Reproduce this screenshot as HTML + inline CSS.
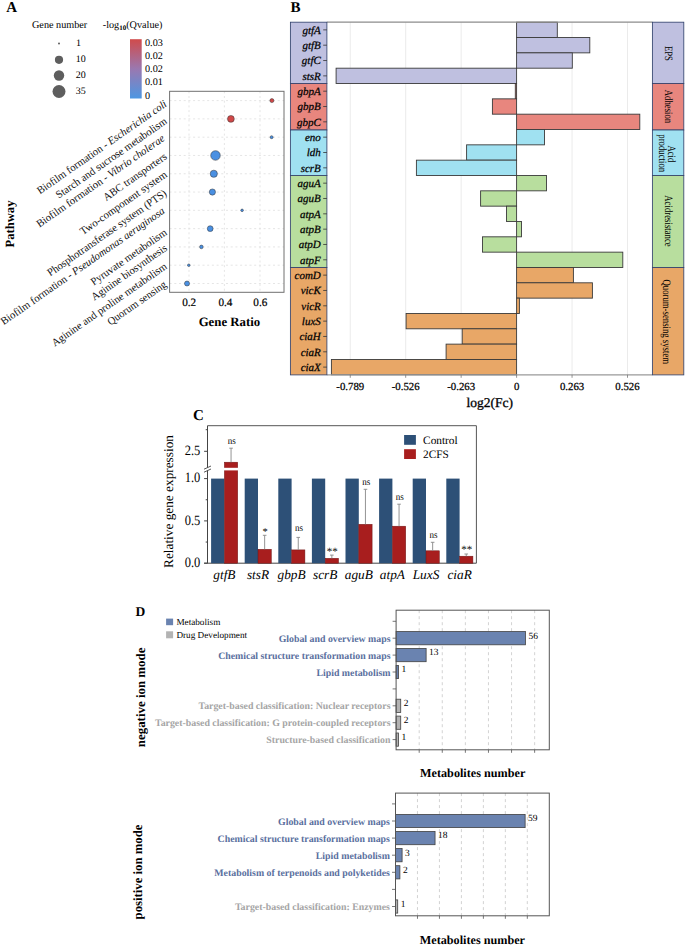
<!DOCTYPE html>
<html><head><meta charset="utf-8"><style>
html,body{margin:0;padding:0;background:#fff;}
svg{display:block;font-family:"Liberation Serif", serif;text-rendering:geometricPrecision;}
</style></head><body>
<svg width="685" height="945" viewBox="0 0 685 945">
<rect x="0" y="0" width="685" height="945" fill="#fff"/>
<text x="6.30" y="11.70" font-size="15" text-anchor="start" font-weight="bold" font-style="normal" fill="#000" >A</text>
<text x="32.00" y="28.00" font-size="10.2" text-anchor="start" font-weight="normal" font-style="normal" fill="#000" >Gene number</text>
<text x="102.8" y="28" font-size="10.2">-log<tspan font-size="7" font-weight="bold" dy="2">10</tspan><tspan dy="-2">(Qvalue)</tspan></text>
<circle cx="59" cy="43.6" r="1.0" fill="#5e5e5e"/>
<text x="76.00" y="46.20" font-size="10" text-anchor="start" font-weight="normal" font-style="normal" fill="#000" >1</text>
<circle cx="59" cy="59.8" r="4.1" fill="#5e5e5e"/>
<text x="75.80" y="62.40" font-size="10" text-anchor="start" font-weight="normal" font-style="normal" fill="#000" >10</text>
<circle cx="59" cy="75.5" r="5.2" fill="#5e5e5e"/>
<text x="75.80" y="78.10" font-size="10" text-anchor="start" font-weight="normal" font-style="normal" fill="#000" >20</text>
<circle cx="59" cy="91.5" r="6.5" fill="#5e5e5e"/>
<text x="75.80" y="94.10" font-size="10" text-anchor="start" font-weight="normal" font-style="normal" fill="#000" >35</text>
<defs><linearGradient id="cb" x1="0" y1="0" x2="0" y2="1"><stop offset="0" stop-color="#d04b4b"/><stop offset="0.5" stop-color="#9a78b0"/><stop offset="1" stop-color="#4d97e2"/></linearGradient></defs>
<rect x="130.00" y="39.20" width="11.70" height="59.30" fill="url(#cb)" stroke="none" stroke-width="1" />
<text x="145.00" y="46.10" font-size="10.2" text-anchor="start" font-weight="normal" font-style="normal" fill="#000" >0.03</text>
<text x="145.00" y="59.10" font-size="10.2" text-anchor="start" font-weight="normal" font-style="normal" fill="#000" >0.02</text>
<text x="145.00" y="72.00" font-size="10.2" text-anchor="start" font-weight="normal" font-style="normal" fill="#000" >0.02</text>
<text x="145.00" y="85.30" font-size="10.2" text-anchor="start" font-weight="normal" font-style="normal" fill="#000" >0.01</text>
<text x="145.00" y="98.50" font-size="10.2" text-anchor="start" font-weight="normal" font-style="normal" fill="#000" >0</text>
<line x1="169.60" y1="100.60" x2="284.00" y2="100.60" stroke="#dedede" stroke-width="0.8" stroke-dasharray="2,2.7"/>
<line x1="169.60" y1="118.89" x2="284.00" y2="118.89" stroke="#dedede" stroke-width="0.8" stroke-dasharray="2,2.7"/>
<line x1="169.60" y1="137.18" x2="284.00" y2="137.18" stroke="#dedede" stroke-width="0.8" stroke-dasharray="2,2.7"/>
<line x1="169.60" y1="155.47" x2="284.00" y2="155.47" stroke="#dedede" stroke-width="0.8" stroke-dasharray="2,2.7"/>
<line x1="169.60" y1="173.76" x2="284.00" y2="173.76" stroke="#dedede" stroke-width="0.8" stroke-dasharray="2,2.7"/>
<line x1="169.60" y1="192.05" x2="284.00" y2="192.05" stroke="#dedede" stroke-width="0.8" stroke-dasharray="2,2.7"/>
<line x1="169.60" y1="210.34" x2="284.00" y2="210.34" stroke="#dedede" stroke-width="0.8" stroke-dasharray="2,2.7"/>
<line x1="169.60" y1="228.63" x2="284.00" y2="228.63" stroke="#dedede" stroke-width="0.8" stroke-dasharray="2,2.7"/>
<line x1="169.60" y1="246.92" x2="284.00" y2="246.92" stroke="#dedede" stroke-width="0.8" stroke-dasharray="2,2.7"/>
<line x1="169.60" y1="265.21" x2="284.00" y2="265.21" stroke="#dedede" stroke-width="0.8" stroke-dasharray="2,2.7"/>
<line x1="169.60" y1="283.50" x2="284.00" y2="283.50" stroke="#dedede" stroke-width="0.8" stroke-dasharray="2,2.7"/>
<line x1="189.00" y1="91.30" x2="189.00" y2="292.30" stroke="#dedede" stroke-width="0.8" stroke-dasharray="2,2.7"/>
<line x1="224.40" y1="91.30" x2="224.40" y2="292.30" stroke="#dedede" stroke-width="0.8" stroke-dasharray="2,2.7"/>
<line x1="260.00" y1="91.30" x2="260.00" y2="292.30" stroke="#dedede" stroke-width="0.8" stroke-dasharray="2,2.7"/>
<rect x="169.60" y="91.30" width="114.40" height="201.00" fill="none" stroke="#707070" stroke-width="1" />
<circle cx="271.9" cy="100.60" r="2.0" fill="#d04848" stroke="#333" stroke-width="0.5"/>
<circle cx="230.9" cy="118.89" r="3.4" fill="#d04848" stroke="#333" stroke-width="0.5"/>
<circle cx="271.6" cy="137.18" r="1.5" fill="#4a90e2" stroke="#333" stroke-width="0.5"/>
<circle cx="215.5" cy="155.47" r="4.8" fill="#4a90e2" stroke="#333" stroke-width="0.5"/>
<circle cx="213.8" cy="173.76" r="3.6" fill="#4a90e2" stroke="#333" stroke-width="0.5"/>
<circle cx="212.4" cy="192.05" r="3.1" fill="#4a90e2" stroke="#333" stroke-width="0.5"/>
<circle cx="242.1" cy="210.34" r="1.3" fill="#4a90e2" stroke="#333" stroke-width="0.5"/>
<circle cx="210.2" cy="228.63" r="2.9" fill="#4a90e2" stroke="#333" stroke-width="0.5"/>
<circle cx="201.4" cy="246.92" r="1.8" fill="#4a90e2" stroke="#333" stroke-width="0.5"/>
<circle cx="188.8" cy="265.21" r="1.3" fill="#4a90e2" stroke="#333" stroke-width="0.5"/>
<circle cx="187.0" cy="283.50" r="2.5" fill="#4a90e2" stroke="#333" stroke-width="0.5"/>
<text x="167.50" y="105.60" font-size="10.85" fill="#111" text-anchor="end" textLength="155.35" lengthAdjust="spacingAndGlyphs" transform="rotate(-34.9 167.50 105.60)">Biofilm formation - <tspan font-style="italic">Escherichia coli</tspan></text>
<text x="167.80" y="122.79" font-size="10.85" fill="#111" text-anchor="end" textLength="132.95" lengthAdjust="spacingAndGlyphs" transform="rotate(-34.9 167.80 122.79)">Starch and sucrose metabolism</text>
<text x="165.50" y="139.88" font-size="10.85" fill="#111" text-anchor="end" textLength="153.7" lengthAdjust="spacingAndGlyphs" transform="rotate(-34.9 165.50 139.88)">Biofilm formation - <tspan font-style="italic">Vibrio cholerae</tspan></text>
<text x="167.80" y="158.17" font-size="10.85" fill="#111" text-anchor="end" textLength="75.17" lengthAdjust="spacingAndGlyphs" transform="rotate(-34.9 167.80 158.17)">ABC transporters</text>
<text x="167.80" y="176.16" font-size="10.85" fill="#111" text-anchor="end" textLength="103.37" lengthAdjust="spacingAndGlyphs" transform="rotate(-34.9 167.80 176.16)">Two-component system</text>
<text x="167.50" y="194.85" font-size="10.85" fill="#111" text-anchor="end" textLength="142.9" lengthAdjust="spacingAndGlyphs" transform="rotate(-34.9 167.50 194.85)">Phosphotransferase system (PTS)</text>
<text x="165.50" y="212.44" font-size="10.85" fill="#111" text-anchor="end" textLength="197.23" lengthAdjust="spacingAndGlyphs" transform="rotate(-34.9 165.50 212.44)">Biofilm formation - <tspan font-style="italic">Pseudomonas aeruginosa</tspan></text>
<text x="167.80" y="234.03" font-size="10.85" fill="#111" text-anchor="end" textLength="90.33" lengthAdjust="spacingAndGlyphs" transform="rotate(-34.9 167.80 234.03)">Pyruvate metabolism</text>
<text x="167.80" y="249.62" font-size="10.85" fill="#111" text-anchor="end" textLength="89.56" lengthAdjust="spacingAndGlyphs" transform="rotate(-34.9 167.80 249.62)">Aginine biosynthesis</text>
<text x="167.80" y="267.91" font-size="10.85" fill="#111" text-anchor="end" textLength="137.95" lengthAdjust="spacingAndGlyphs" transform="rotate(-34.9 167.80 267.91)">Aginine and proline metabolism</text>
<text x="167.40" y="285.90" font-size="10.85" fill="#111" text-anchor="end" textLength="69.46" lengthAdjust="spacingAndGlyphs" transform="rotate(-34.9 167.40 285.90)">Quorum sensing</text>
<text x="0" y="0" font-size="12.6" font-weight="bold" text-anchor="middle" transform="translate(14.4 224.0) rotate(-90)">Pathway</text>
<text x="189.20" y="305.90" font-size="11.2" text-anchor="middle" font-weight="normal" font-style="normal" fill="#000" stroke="#000" stroke-width="0.2" >0.2</text>
<text x="225.40" y="305.90" font-size="11.2" text-anchor="middle" font-weight="normal" font-style="normal" fill="#000" stroke="#000" stroke-width="0.2" >0.4</text>
<text x="260.30" y="305.90" font-size="11.2" text-anchor="middle" font-weight="normal" font-style="normal" fill="#000" stroke="#000" stroke-width="0.2" >0.6</text>
<text x="229.40" y="325.70" font-size="12.8" text-anchor="middle" font-weight="bold" font-style="normal" fill="#000" >Gene Ratio</text>
<text x="290.40" y="11.60" font-size="15" text-anchor="start" font-weight="bold" font-style="normal" fill="#000" >B</text>
<line x1="350.25" y1="22.20" x2="350.25" y2="374.79" stroke="#ebebeb" stroke-width="1" />
<line x1="405.70" y1="22.20" x2="405.70" y2="374.79" stroke="#ebebeb" stroke-width="1" />
<line x1="461.15" y1="22.20" x2="461.15" y2="374.79" stroke="#ebebeb" stroke-width="1" />
<line x1="572.05" y1="22.20" x2="572.05" y2="374.79" stroke="#ebebeb" stroke-width="1" />
<line x1="627.50" y1="22.20" x2="627.50" y2="374.79" stroke="#ebebeb" stroke-width="1" />
<rect x="516.60" y="22.20" width="40.70" height="15.33" fill="#bfc0e0" stroke="#3a3a3a" stroke-width="0.9" />
<rect x="516.60" y="37.53" width="73.20" height="15.33" fill="#bfc0e0" stroke="#3a3a3a" stroke-width="0.9" />
<rect x="516.60" y="52.86" width="55.70" height="15.33" fill="#bfc0e0" stroke="#3a3a3a" stroke-width="0.9" />
<rect x="336.10" y="68.19" width="180.50" height="15.33" fill="#bfc0e0" stroke="#3a3a3a" stroke-width="0.9" />
<rect x="515.30" y="83.52" width="1.30" height="15.33" fill="#e8867e" stroke="#3a3a3a" stroke-width="0.9" />
<rect x="492.40" y="98.85" width="24.20" height="15.33" fill="#e8867e" stroke="#3a3a3a" stroke-width="0.9" />
<rect x="516.60" y="114.18" width="123.20" height="15.33" fill="#e8867e" stroke="#3a3a3a" stroke-width="0.9" />
<rect x="516.60" y="129.51" width="27.90" height="15.33" fill="#a0e1f1" stroke="#3a3a3a" stroke-width="0.9" />
<rect x="466.60" y="144.84" width="50.00" height="15.33" fill="#a0e1f1" stroke="#3a3a3a" stroke-width="0.9" />
<rect x="416.40" y="160.17" width="100.20" height="15.33" fill="#a0e1f1" stroke="#3a3a3a" stroke-width="0.9" />
<rect x="516.60" y="175.50" width="29.90" height="15.33" fill="#b8de9e" stroke="#3a3a3a" stroke-width="0.9" />
<rect x="480.60" y="190.83" width="36.00" height="15.33" fill="#b8de9e" stroke="#3a3a3a" stroke-width="0.9" />
<rect x="506.50" y="206.16" width="10.10" height="15.33" fill="#b8de9e" stroke="#3a3a3a" stroke-width="0.9" />
<rect x="516.60" y="221.49" width="4.90" height="15.33" fill="#b8de9e" stroke="#3a3a3a" stroke-width="0.9" />
<rect x="482.50" y="236.82" width="34.10" height="15.33" fill="#b8de9e" stroke="#3a3a3a" stroke-width="0.9" />
<rect x="516.60" y="252.15" width="106.20" height="15.33" fill="#b8de9e" stroke="#3a3a3a" stroke-width="0.9" />
<rect x="516.60" y="267.48" width="56.80" height="15.33" fill="#e8a767" stroke="#3a3a3a" stroke-width="0.9" />
<rect x="516.60" y="282.81" width="75.80" height="15.33" fill="#e8a767" stroke="#3a3a3a" stroke-width="0.9" />
<rect x="516.60" y="298.14" width="2.80" height="15.33" fill="#e8a767" stroke="#3a3a3a" stroke-width="0.9" />
<rect x="406.10" y="313.47" width="110.50" height="15.33" fill="#e8a767" stroke="#3a3a3a" stroke-width="0.9" />
<rect x="462.20" y="328.80" width="54.40" height="15.33" fill="#e8a767" stroke="#3a3a3a" stroke-width="0.9" />
<rect x="446.10" y="344.13" width="70.50" height="15.33" fill="#e8a767" stroke="#3a3a3a" stroke-width="0.9" />
<rect x="331.40" y="359.46" width="185.20" height="15.33" fill="#e8a767" stroke="#3a3a3a" stroke-width="0.9" />
<line x1="326.90" y1="22.20" x2="652.40" y2="22.20" stroke="#8c8c8c" stroke-width="1.2" />
<line x1="326.90" y1="374.79" x2="652.40" y2="374.79" stroke="#9a9a9a" stroke-width="1.2" />
<line x1="350.25" y1="374.79" x2="350.25" y2="377.79" stroke="#777" stroke-width="0.8" />
<line x1="405.70" y1="374.79" x2="405.70" y2="377.79" stroke="#777" stroke-width="0.8" />
<line x1="461.15" y1="374.79" x2="461.15" y2="377.79" stroke="#777" stroke-width="0.8" />
<line x1="516.60" y1="374.79" x2="516.60" y2="377.79" stroke="#777" stroke-width="0.8" />
<line x1="572.05" y1="374.79" x2="572.05" y2="377.79" stroke="#777" stroke-width="0.8" />
<line x1="627.50" y1="374.79" x2="627.50" y2="377.79" stroke="#777" stroke-width="0.8" />
<rect x="290.40" y="22.20" width="36.50" height="61.25" fill="#bfc0e0" stroke="#34446e" stroke-width="0.85" />
<rect x="652.40" y="22.20" width="31.40" height="61.25" fill="#bfc0e0" stroke="#34446e" stroke-width="0.85" />
<rect x="290.40" y="83.45" width="36.50" height="46.55" fill="#e8867e" stroke="#34446e" stroke-width="0.85" />
<rect x="652.40" y="83.45" width="31.40" height="46.55" fill="#e8867e" stroke="#34446e" stroke-width="0.85" />
<rect x="290.40" y="130.00" width="36.50" height="45.50" fill="#a0e1f1" stroke="#34446e" stroke-width="0.85" />
<rect x="652.40" y="130.00" width="31.40" height="45.50" fill="#a0e1f1" stroke="#34446e" stroke-width="0.85" />
<rect x="290.40" y="175.50" width="36.50" height="92.05" fill="#b8de9e" stroke="#34446e" stroke-width="0.85" />
<rect x="652.40" y="175.50" width="31.40" height="92.05" fill="#b8de9e" stroke="#34446e" stroke-width="0.85" />
<rect x="290.40" y="267.55" width="36.50" height="107.35" fill="#e8a767" stroke="#34446e" stroke-width="0.85" />
<rect x="652.40" y="267.55" width="31.40" height="107.35" fill="#e8a767" stroke="#34446e" stroke-width="0.85" />
<text x="320.80" y="33.66" font-size="11" text-anchor="end" font-weight="normal" font-style="italic" fill="#000" stroke="#000" stroke-width="0.25" >gtfA</text>
<line x1="323.20" y1="29.86" x2="326.90" y2="29.86" stroke="#333" stroke-width="0.8" />
<text x="320.80" y="48.99" font-size="11" text-anchor="end" font-weight="normal" font-style="italic" fill="#000" stroke="#000" stroke-width="0.25" >gtfB</text>
<line x1="323.20" y1="45.20" x2="326.90" y2="45.20" stroke="#333" stroke-width="0.8" />
<text x="320.80" y="64.33" font-size="11" text-anchor="end" font-weight="normal" font-style="italic" fill="#000" stroke="#000" stroke-width="0.25" >gtfC</text>
<line x1="323.20" y1="60.53" x2="326.90" y2="60.53" stroke="#333" stroke-width="0.8" />
<text x="320.80" y="79.66" font-size="11" text-anchor="end" font-weight="normal" font-style="italic" fill="#000" stroke="#000" stroke-width="0.25" >stsR</text>
<line x1="323.20" y1="75.86" x2="326.90" y2="75.86" stroke="#333" stroke-width="0.8" />
<text x="320.80" y="94.98" font-size="11" text-anchor="end" font-weight="normal" font-style="italic" fill="#000" stroke="#000" stroke-width="0.25" >gbpA</text>
<line x1="323.20" y1="91.19" x2="326.90" y2="91.19" stroke="#333" stroke-width="0.8" />
<text x="320.80" y="110.31" font-size="11" text-anchor="end" font-weight="normal" font-style="italic" fill="#000" stroke="#000" stroke-width="0.25" >gbpB</text>
<line x1="323.20" y1="106.52" x2="326.90" y2="106.52" stroke="#333" stroke-width="0.8" />
<text x="320.80" y="125.64" font-size="11" text-anchor="end" font-weight="normal" font-style="italic" fill="#000" stroke="#000" stroke-width="0.25" >gbpC</text>
<line x1="323.20" y1="121.84" x2="326.90" y2="121.84" stroke="#333" stroke-width="0.8" />
<text x="320.80" y="140.97" font-size="11" text-anchor="end" font-weight="normal" font-style="italic" fill="#000" stroke="#000" stroke-width="0.25" >eno</text>
<line x1="323.20" y1="137.17" x2="326.90" y2="137.17" stroke="#333" stroke-width="0.8" />
<text x="320.80" y="156.31" font-size="11" text-anchor="end" font-weight="normal" font-style="italic" fill="#000" stroke="#000" stroke-width="0.25" >ldh</text>
<line x1="323.20" y1="152.50" x2="326.90" y2="152.50" stroke="#333" stroke-width="0.8" />
<text x="320.80" y="171.63" font-size="11" text-anchor="end" font-weight="normal" font-style="italic" fill="#000" stroke="#000" stroke-width="0.25" >scrB</text>
<line x1="323.20" y1="167.83" x2="326.90" y2="167.83" stroke="#333" stroke-width="0.8" />
<text x="320.80" y="186.97" font-size="11" text-anchor="end" font-weight="normal" font-style="italic" fill="#000" stroke="#000" stroke-width="0.25" >aguA</text>
<line x1="323.20" y1="183.16" x2="326.90" y2="183.16" stroke="#333" stroke-width="0.8" />
<text x="320.80" y="202.29" font-size="11" text-anchor="end" font-weight="normal" font-style="italic" fill="#000" stroke="#000" stroke-width="0.25" >aguB</text>
<line x1="323.20" y1="198.49" x2="326.90" y2="198.49" stroke="#333" stroke-width="0.8" />
<text x="320.80" y="217.62" font-size="11" text-anchor="end" font-weight="normal" font-style="italic" fill="#000" stroke="#000" stroke-width="0.25" >atpA</text>
<line x1="323.20" y1="213.82" x2="326.90" y2="213.82" stroke="#333" stroke-width="0.8" />
<text x="320.80" y="232.96" font-size="11" text-anchor="end" font-weight="normal" font-style="italic" fill="#000" stroke="#000" stroke-width="0.25" >atpB</text>
<line x1="323.20" y1="229.16" x2="326.90" y2="229.16" stroke="#333" stroke-width="0.8" />
<text x="320.80" y="248.28" font-size="11" text-anchor="end" font-weight="normal" font-style="italic" fill="#000" stroke="#000" stroke-width="0.25" >atpD</text>
<line x1="323.20" y1="244.48" x2="326.90" y2="244.48" stroke="#333" stroke-width="0.8" />
<text x="320.80" y="263.62" font-size="11" text-anchor="end" font-weight="normal" font-style="italic" fill="#000" stroke="#000" stroke-width="0.25" >atpF</text>
<line x1="323.20" y1="259.81" x2="326.90" y2="259.81" stroke="#333" stroke-width="0.8" />
<text x="320.80" y="278.94" font-size="11" text-anchor="end" font-weight="normal" font-style="italic" fill="#000" stroke="#000" stroke-width="0.25" >comD</text>
<line x1="323.20" y1="275.14" x2="326.90" y2="275.14" stroke="#333" stroke-width="0.8" />
<text x="320.80" y="294.27" font-size="11" text-anchor="end" font-weight="normal" font-style="italic" fill="#000" stroke="#000" stroke-width="0.25" >vicK</text>
<line x1="323.20" y1="290.47" x2="326.90" y2="290.47" stroke="#333" stroke-width="0.8" />
<text x="320.80" y="309.61" font-size="11" text-anchor="end" font-weight="normal" font-style="italic" fill="#000" stroke="#000" stroke-width="0.25" >vicR</text>
<line x1="323.20" y1="305.81" x2="326.90" y2="305.81" stroke="#333" stroke-width="0.8" />
<text x="320.80" y="324.94" font-size="11" text-anchor="end" font-weight="normal" font-style="italic" fill="#000" stroke="#000" stroke-width="0.25" >luxS</text>
<line x1="323.20" y1="321.13" x2="326.90" y2="321.13" stroke="#333" stroke-width="0.8" />
<text x="320.80" y="340.26" font-size="11" text-anchor="end" font-weight="normal" font-style="italic" fill="#000" stroke="#000" stroke-width="0.25" >ciaH</text>
<line x1="323.20" y1="336.46" x2="326.90" y2="336.46" stroke="#333" stroke-width="0.8" />
<text x="320.80" y="355.60" font-size="11" text-anchor="end" font-weight="normal" font-style="italic" fill="#000" stroke="#000" stroke-width="0.25" >ciaR</text>
<line x1="323.20" y1="351.80" x2="326.90" y2="351.80" stroke="#333" stroke-width="0.8" />
<text x="320.80" y="370.93" font-size="11" text-anchor="end" font-weight="normal" font-style="italic" fill="#000" stroke="#000" stroke-width="0.25" >ciaX</text>
<line x1="323.20" y1="367.12" x2="326.90" y2="367.12" stroke="#333" stroke-width="0.8" />
<text x="0" y="0" font-size="11.2" text-anchor="middle" transform="translate(664.80 53.40) rotate(90) scale(0.78 1)">EPS</text>
<text x="0" y="0" font-size="11.2" text-anchor="middle" transform="translate(664.80 106.50) rotate(90) scale(0.78 1)">Adhesion</text>
<text x="0" y="0" font-size="11.2" text-anchor="middle" transform="translate(668.40 153.90) rotate(90) scale(0.78 1)">Acid</text>
<text x="0" y="0" font-size="11.2" text-anchor="middle" transform="translate(659.20 153.20) rotate(90) scale(0.78 1)">production</text>
<text x="0" y="0" font-size="11.2" text-anchor="middle" transform="translate(665.10 221.00) rotate(90) scale(0.78 1)">Acidresistance</text>
<text x="0" y="0" font-size="11.2" text-anchor="middle" transform="translate(663.20 321.80) rotate(90) scale(0.78 1)">Quorum-sensing system</text>
<text x="350.25" y="389.90" font-size="10.8" text-anchor="middle" font-weight="normal" font-style="normal" fill="#000" stroke="#000" stroke-width="0.25" >-0.789</text>
<text x="405.70" y="389.90" font-size="10.8" text-anchor="middle" font-weight="normal" font-style="normal" fill="#000" stroke="#000" stroke-width="0.25" >-0.526</text>
<text x="461.15" y="389.90" font-size="10.8" text-anchor="middle" font-weight="normal" font-style="normal" fill="#000" stroke="#000" stroke-width="0.25" >-0.263</text>
<text x="516.60" y="389.90" font-size="10.8" text-anchor="middle" font-weight="normal" font-style="normal" fill="#000" stroke="#000" stroke-width="0.25" >0</text>
<text x="572.05" y="389.90" font-size="10.8" text-anchor="middle" font-weight="normal" font-style="normal" fill="#000" stroke="#000" stroke-width="0.25" >0.263</text>
<text x="627.50" y="389.90" font-size="10.8" text-anchor="middle" font-weight="normal" font-style="normal" fill="#000" stroke="#000" stroke-width="0.25" >0.526</text>
<text x="489.80" y="406.90" font-size="13.5" text-anchor="middle" font-weight="normal" font-style="normal" fill="#000" stroke="#000" stroke-width="0.3" >log2(Fc)</text>
<text x="193.00" y="420.40" font-size="15" text-anchor="start" font-weight="bold" font-style="normal" fill="#000" >C</text>
<line x1="207.50" y1="425.70" x2="476.40" y2="425.70" stroke="#555" stroke-width="1" />
<line x1="476.40" y1="425.70" x2="476.40" y2="563.20" stroke="#555" stroke-width="1" />
<line x1="204.10" y1="563.20" x2="476.40" y2="563.20" stroke="#444" stroke-width="1" />
<line x1="207.50" y1="425.70" x2="207.50" y2="467.60" stroke="#444" stroke-width="1" />
<line x1="207.50" y1="470.60" x2="207.50" y2="563.20" stroke="#444" stroke-width="1" />
<line x1="204.00" y1="469.20" x2="211.00" y2="466.00" stroke="#444" stroke-width="0.9" />
<line x1="204.00" y1="472.20" x2="211.00" y2="469.00" stroke="#444" stroke-width="0.9" />
<line x1="204.10" y1="478.60" x2="207.50" y2="478.60" stroke="#444" stroke-width="1" />
<text x="0" y="0" font-size="12.5" text-anchor="end" font-weight="normal" font-style="normal" fill="#000" transform="translate(200.30 482.20) scale(1 1.14)">1.0</text>
<line x1="204.10" y1="520.90" x2="207.50" y2="520.90" stroke="#444" stroke-width="1" />
<text x="0" y="0" font-size="12.5" text-anchor="end" font-weight="normal" font-style="normal" fill="#000" transform="translate(200.30 524.50) scale(1 1.14)">0.5</text>
<line x1="204.10" y1="563.20" x2="207.50" y2="563.20" stroke="#444" stroke-width="1" />
<text x="0" y="0" font-size="12.5" text-anchor="end" font-weight="normal" font-style="normal" fill="#000" transform="translate(200.30 566.80) scale(1 1.14)">0.0</text>
<line x1="205.70" y1="499.75" x2="207.50" y2="499.75" stroke="#444" stroke-width="1" />
<line x1="205.70" y1="542.05" x2="207.50" y2="542.05" stroke="#444" stroke-width="1" />
<line x1="204.10" y1="451.30" x2="207.50" y2="451.30" stroke="#444" stroke-width="1" />
<text x="0" y="0" font-size="12.5" text-anchor="end" font-weight="normal" font-style="normal" fill="#000" transform="translate(200.30 454.90) scale(1 1.14)">2.5</text>
<line x1="205.70" y1="429.70" x2="207.50" y2="429.70" stroke="#444" stroke-width="1" />
<text x="0" y="0" font-size="13.3" text-anchor="middle" transform="translate(172.6 501.5) rotate(-90)">Relative gene expression</text>
<rect x="211.10" y="478.60" width="13.30" height="84.60" fill="#2d5077" stroke="none" stroke-width="1" />
<rect x="224.40" y="462.20" width="13.30" height="101.00" fill="#a81e1e" stroke="#6e1515" stroke-width="0.5" />
<line x1="231.05" y1="448.20" x2="231.05" y2="462.20" stroke="#888" stroke-width="0.9" />
<line x1="229.25" y1="448.20" x2="232.85" y2="448.20" stroke="#888" stroke-width="0.9" />
<text x="0" y="0" font-size="10" text-anchor="middle" transform="translate(231.85 444.00) scale(0.9 1)">ns</text>
<text x="224.40" y="579.00" font-size="13.3" text-anchor="middle" font-weight="normal" font-style="italic" fill="#000" >gtfB</text>
<rect x="244.70" y="478.60" width="13.30" height="84.60" fill="#2d5077" stroke="none" stroke-width="1" />
<rect x="258.00" y="549.30" width="13.30" height="13.90" fill="#a81e1e" stroke="#6e1515" stroke-width="0.5" />
<line x1="264.65" y1="535.30" x2="264.65" y2="549.30" stroke="#888" stroke-width="0.9" />
<line x1="262.85" y1="535.30" x2="266.45" y2="535.30" stroke="#888" stroke-width="0.9" />
<text x="265.15" y="534.50" font-size="10.5" text-anchor="middle" font-weight="normal" font-style="normal" fill="#000" >*</text>
<text x="258.00" y="579.00" font-size="13.3" text-anchor="middle" font-weight="normal" font-style="italic" fill="#000" >stsR</text>
<rect x="278.30" y="478.60" width="13.30" height="84.60" fill="#2d5077" stroke="none" stroke-width="1" />
<rect x="291.60" y="549.90" width="13.30" height="13.30" fill="#a81e1e" stroke="#6e1515" stroke-width="0.5" />
<line x1="298.25" y1="537.40" x2="298.25" y2="549.90" stroke="#888" stroke-width="0.9" />
<line x1="296.45" y1="537.40" x2="300.05" y2="537.40" stroke="#888" stroke-width="0.9" />
<text x="0" y="0" font-size="10" text-anchor="middle" transform="translate(299.05 531.40) scale(0.9 1)">ns</text>
<text x="291.60" y="579.00" font-size="13.3" text-anchor="middle" font-weight="normal" font-style="italic" fill="#000" >gbpB</text>
<rect x="311.90" y="478.60" width="13.30" height="84.60" fill="#2d5077" stroke="none" stroke-width="1" />
<rect x="325.20" y="558.30" width="13.30" height="4.90" fill="#a81e1e" stroke="#6e1515" stroke-width="0.5" />
<line x1="331.85" y1="555.10" x2="331.85" y2="558.30" stroke="#888" stroke-width="0.9" />
<line x1="330.05" y1="555.10" x2="333.65" y2="555.10" stroke="#888" stroke-width="0.9" />
<text x="332.35" y="554.60" font-size="11" text-anchor="middle" font-weight="normal" font-style="normal" fill="#000" >**</text>
<text x="325.20" y="579.00" font-size="13.3" text-anchor="middle" font-weight="normal" font-style="italic" fill="#000" >scrB</text>
<rect x="345.50" y="478.60" width="13.30" height="84.60" fill="#2d5077" stroke="none" stroke-width="1" />
<rect x="358.80" y="524.30" width="13.30" height="38.90" fill="#a81e1e" stroke="#6e1515" stroke-width="0.5" />
<line x1="365.45" y1="489.30" x2="365.45" y2="524.30" stroke="#888" stroke-width="0.9" />
<line x1="363.65" y1="489.30" x2="367.25" y2="489.30" stroke="#888" stroke-width="0.9" />
<text x="0" y="0" font-size="10" text-anchor="middle" transform="translate(366.25 484.80) scale(0.9 1)">ns</text>
<text x="358.80" y="579.00" font-size="13.3" text-anchor="middle" font-weight="normal" font-style="italic" fill="#000" >aguB</text>
<rect x="379.10" y="478.60" width="13.30" height="84.60" fill="#2d5077" stroke="none" stroke-width="1" />
<rect x="392.40" y="526.20" width="13.30" height="37.00" fill="#a81e1e" stroke="#6e1515" stroke-width="0.5" />
<line x1="399.05" y1="504.20" x2="399.05" y2="526.20" stroke="#888" stroke-width="0.9" />
<line x1="397.25" y1="504.20" x2="400.85" y2="504.20" stroke="#888" stroke-width="0.9" />
<text x="0" y="0" font-size="10" text-anchor="middle" transform="translate(399.85 499.70) scale(0.9 1)">ns</text>
<text x="392.40" y="579.00" font-size="13.3" text-anchor="middle" font-weight="normal" font-style="italic" fill="#000" >atpA</text>
<rect x="412.70" y="478.60" width="13.30" height="84.60" fill="#2d5077" stroke="none" stroke-width="1" />
<rect x="426.00" y="550.80" width="13.30" height="12.40" fill="#a81e1e" stroke="#6e1515" stroke-width="0.5" />
<line x1="432.65" y1="542.30" x2="432.65" y2="550.80" stroke="#888" stroke-width="0.9" />
<line x1="430.85" y1="542.30" x2="434.45" y2="542.30" stroke="#888" stroke-width="0.9" />
<text x="0" y="0" font-size="10" text-anchor="middle" transform="translate(433.45 538.20) scale(0.9 1)">ns</text>
<text x="426.00" y="579.00" font-size="13.3" text-anchor="middle" font-weight="normal" font-style="italic" fill="#000" >LuxS</text>
<rect x="446.30" y="478.60" width="13.30" height="84.60" fill="#2d5077" stroke="none" stroke-width="1" />
<rect x="459.60" y="556.20" width="13.30" height="7.00" fill="#a81e1e" stroke="#6e1515" stroke-width="0.5" />
<line x1="466.25" y1="554.00" x2="466.25" y2="556.20" stroke="#888" stroke-width="0.9" />
<line x1="464.45" y1="554.00" x2="468.05" y2="554.00" stroke="#888" stroke-width="0.9" />
<text x="466.75" y="552.90" font-size="11" text-anchor="middle" font-weight="normal" font-style="normal" fill="#000" >**</text>
<text x="459.60" y="579.00" font-size="13.3" text-anchor="middle" font-weight="normal" font-style="italic" fill="#000" >ciaR</text>
<rect x="223.90" y="467.80" width="14.30" height="2.60" fill="#fff" stroke="none" stroke-width="1" />
<rect x="404.10" y="435.00" width="11.80" height="9.80" fill="#2d5077" stroke="none" stroke-width="1" />
<rect x="404.10" y="449.20" width="11.80" height="9.80" fill="#a81e1e" stroke="none" stroke-width="1" />
<text x="423.10" y="444.10" font-size="11.3" text-anchor="start" font-weight="normal" font-style="normal" fill="#000" >Control</text>
<text x="423.10" y="458.10" font-size="11.3" text-anchor="start" font-weight="normal" font-style="normal" fill="#000" >2CFS</text>
<text x="135.50" y="615.80" font-size="13.5" text-anchor="start" font-weight="bold" font-style="normal" fill="#000" >D</text>
<rect x="166.10" y="618.60" width="7.00" height="6.60" fill="#6a83b0" stroke="none" stroke-width="1" />
<rect x="166.10" y="631.30" width="7.00" height="7.00" fill="#b3b3b3" stroke="none" stroke-width="1" />
<text x="176.40" y="625.20" font-size="9.2" text-anchor="start" font-weight="normal" font-style="normal" fill="#000" >Metabolism</text>
<text x="176.40" y="637.70" font-size="9.2" text-anchor="start" font-weight="normal" font-style="normal" fill="#000" >Drug Development</text>
<line x1="419.19" y1="610.20" x2="419.19" y2="749.80" stroke="#c8c8c8" stroke-width="0.8" stroke-dasharray="3,3"/>
<line x1="419.19" y1="749.80" x2="419.19" y2="752.80" stroke="#555" stroke-width="0.8" />
<line x1="442.28" y1="610.20" x2="442.28" y2="749.80" stroke="#c8c8c8" stroke-width="0.8" stroke-dasharray="3,3"/>
<line x1="442.28" y1="749.80" x2="442.28" y2="752.80" stroke="#555" stroke-width="0.8" />
<line x1="465.37" y1="610.20" x2="465.37" y2="749.80" stroke="#c8c8c8" stroke-width="0.8" stroke-dasharray="3,3"/>
<line x1="465.37" y1="749.80" x2="465.37" y2="752.80" stroke="#555" stroke-width="0.8" />
<line x1="488.46" y1="610.20" x2="488.46" y2="749.80" stroke="#c8c8c8" stroke-width="0.8" stroke-dasharray="3,3"/>
<line x1="488.46" y1="749.80" x2="488.46" y2="752.80" stroke="#555" stroke-width="0.8" />
<line x1="511.55" y1="610.20" x2="511.55" y2="749.80" stroke="#c8c8c8" stroke-width="0.8" stroke-dasharray="3,3"/>
<line x1="511.55" y1="749.80" x2="511.55" y2="752.80" stroke="#555" stroke-width="0.8" />
<line x1="534.64" y1="610.20" x2="534.64" y2="749.80" stroke="#c8c8c8" stroke-width="0.8" stroke-dasharray="3,3"/>
<line x1="534.64" y1="749.80" x2="534.64" y2="752.80" stroke="#555" stroke-width="0.8" />
<line x1="392.60" y1="621.30" x2="396.10" y2="621.30" stroke="#555" stroke-width="0.8" />
<line x1="392.60" y1="638.20" x2="396.10" y2="638.20" stroke="#555" stroke-width="0.8" />
<rect x="396.10" y="631.60" width="129.30" height="13.20" fill="#6a83b0" stroke="#404040" stroke-width="0.8" />
<text x="390.50" y="641.80" font-size="9.85" text-anchor="end" font-weight="bold" font-style="normal" fill="#5a6f9e" >Global and overview maps</text>
<text x="528.40" y="638.50" font-size="9.5" text-anchor="start" font-weight="normal" font-style="normal" fill="#000" >56</text>
<line x1="392.60" y1="655.10" x2="396.10" y2="655.10" stroke="#555" stroke-width="0.8" />
<rect x="396.10" y="648.50" width="30.02" height="13.20" fill="#6a83b0" stroke="#404040" stroke-width="0.8" />
<text x="390.50" y="658.70" font-size="9.85" text-anchor="end" font-weight="bold" font-style="normal" fill="#5a6f9e" >Chemical structure transformation maps</text>
<text x="429.12" y="655.40" font-size="9.5" text-anchor="start" font-weight="normal" font-style="normal" fill="#000" >13</text>
<line x1="392.60" y1="672.00" x2="396.10" y2="672.00" stroke="#555" stroke-width="0.8" />
<rect x="396.10" y="665.40" width="2.31" height="13.20" fill="#6a83b0" stroke="#404040" stroke-width="0.8" />
<text x="390.50" y="675.60" font-size="9.85" text-anchor="end" font-weight="bold" font-style="normal" fill="#5a6f9e" >Lipid metabolism</text>
<text x="401.41" y="672.30" font-size="9.5" text-anchor="start" font-weight="normal" font-style="normal" fill="#000" >1</text>
<line x1="392.60" y1="688.90" x2="396.10" y2="688.90" stroke="#555" stroke-width="0.8" />
<line x1="392.60" y1="705.80" x2="396.10" y2="705.80" stroke="#555" stroke-width="0.8" />
<rect x="396.10" y="699.20" width="4.62" height="13.20" fill="#b3b3b3" stroke="#404040" stroke-width="0.8" />
<text x="390.50" y="709.40" font-size="9.85" text-anchor="end" font-weight="bold" font-style="normal" fill="#a5a5a5" >Target-based classification: Nuclear receptors</text>
<text x="403.72" y="706.10" font-size="9.5" text-anchor="start" font-weight="normal" font-style="normal" fill="#000" >2</text>
<line x1="392.60" y1="722.70" x2="396.10" y2="722.70" stroke="#555" stroke-width="0.8" />
<rect x="396.10" y="716.10" width="4.62" height="13.20" fill="#b3b3b3" stroke="#404040" stroke-width="0.8" />
<text x="390.50" y="726.30" font-size="9.85" text-anchor="end" font-weight="bold" font-style="normal" fill="#a5a5a5" >Target-based classification: G protein-coupled receptors</text>
<text x="403.72" y="723.00" font-size="9.5" text-anchor="start" font-weight="normal" font-style="normal" fill="#000" >2</text>
<line x1="392.60" y1="739.60" x2="396.10" y2="739.60" stroke="#555" stroke-width="0.8" />
<rect x="396.10" y="733.00" width="2.31" height="13.20" fill="#b3b3b3" stroke="#404040" stroke-width="0.8" />
<text x="390.50" y="743.20" font-size="9.85" text-anchor="end" font-weight="bold" font-style="normal" fill="#a5a5a5" >Structure-based classification</text>
<text x="401.41" y="739.90" font-size="9.5" text-anchor="start" font-weight="normal" font-style="normal" fill="#000" >1</text>
<rect x="396.10" y="610.20" width="153.20" height="139.60" fill="none" stroke="#555" stroke-width="1" />
<text x="472.70" y="776.60" font-size="12.2" text-anchor="middle" font-weight="bold" font-style="normal" fill="#000" >Metabolites number</text>
<line x1="417.47" y1="793.10" x2="417.47" y2="915.80" stroke="#c8c8c8" stroke-width="0.8" stroke-dasharray="3,3"/>
<line x1="417.47" y1="915.80" x2="417.47" y2="918.80" stroke="#555" stroke-width="0.8" />
<line x1="439.44" y1="793.10" x2="439.44" y2="915.80" stroke="#c8c8c8" stroke-width="0.8" stroke-dasharray="3,3"/>
<line x1="439.44" y1="915.80" x2="439.44" y2="918.80" stroke="#555" stroke-width="0.8" />
<line x1="461.41" y1="793.10" x2="461.41" y2="915.80" stroke="#c8c8c8" stroke-width="0.8" stroke-dasharray="3,3"/>
<line x1="461.41" y1="915.80" x2="461.41" y2="918.80" stroke="#555" stroke-width="0.8" />
<line x1="483.38" y1="793.10" x2="483.38" y2="915.80" stroke="#c8c8c8" stroke-width="0.8" stroke-dasharray="3,3"/>
<line x1="483.38" y1="915.80" x2="483.38" y2="918.80" stroke="#555" stroke-width="0.8" />
<line x1="505.35" y1="793.10" x2="505.35" y2="915.80" stroke="#c8c8c8" stroke-width="0.8" stroke-dasharray="3,3"/>
<line x1="505.35" y1="915.80" x2="505.35" y2="918.80" stroke="#555" stroke-width="0.8" />
<line x1="527.32" y1="793.10" x2="527.32" y2="915.80" stroke="#c8c8c8" stroke-width="0.8" stroke-dasharray="3,3"/>
<line x1="527.32" y1="915.80" x2="527.32" y2="918.80" stroke="#555" stroke-width="0.8" />
<line x1="392.00" y1="803.90" x2="395.50" y2="803.90" stroke="#555" stroke-width="0.8" />
<line x1="392.00" y1="821.00" x2="395.50" y2="821.00" stroke="#555" stroke-width="0.8" />
<rect x="395.50" y="814.40" width="129.62" height="13.20" fill="#6a83b0" stroke="#404040" stroke-width="0.8" />
<text x="389.90" y="824.60" font-size="9.85" text-anchor="end" font-weight="bold" font-style="normal" fill="#5a6f9e" >Global and overview maps</text>
<text x="528.12" y="821.30" font-size="9.5" text-anchor="start" font-weight="normal" font-style="normal" fill="#000" >59</text>
<line x1="392.00" y1="838.10" x2="395.50" y2="838.10" stroke="#555" stroke-width="0.8" />
<rect x="395.50" y="831.50" width="39.55" height="13.20" fill="#6a83b0" stroke="#404040" stroke-width="0.8" />
<text x="389.90" y="841.70" font-size="9.85" text-anchor="end" font-weight="bold" font-style="normal" fill="#5a6f9e" >Chemical structure transformation maps</text>
<text x="438.05" y="838.40" font-size="9.5" text-anchor="start" font-weight="normal" font-style="normal" fill="#000" >18</text>
<line x1="392.00" y1="855.20" x2="395.50" y2="855.20" stroke="#555" stroke-width="0.8" />
<rect x="395.50" y="848.60" width="6.59" height="13.20" fill="#6a83b0" stroke="#404040" stroke-width="0.8" />
<text x="389.90" y="858.80" font-size="9.85" text-anchor="end" font-weight="bold" font-style="normal" fill="#5a6f9e" >Lipid metabolism</text>
<text x="405.09" y="855.50" font-size="9.5" text-anchor="start" font-weight="normal" font-style="normal" fill="#000" >3</text>
<line x1="392.00" y1="872.30" x2="395.50" y2="872.30" stroke="#555" stroke-width="0.8" />
<rect x="395.50" y="865.70" width="4.39" height="13.20" fill="#6a83b0" stroke="#404040" stroke-width="0.8" />
<text x="389.90" y="875.90" font-size="9.85" text-anchor="end" font-weight="bold" font-style="normal" fill="#5a6f9e" >Metabolism of terpenoids and polyketides</text>
<text x="402.89" y="872.60" font-size="9.5" text-anchor="start" font-weight="normal" font-style="normal" fill="#000" >2</text>
<line x1="392.00" y1="889.40" x2="395.50" y2="889.40" stroke="#555" stroke-width="0.8" />
<line x1="392.00" y1="906.50" x2="395.50" y2="906.50" stroke="#555" stroke-width="0.8" />
<rect x="395.50" y="899.90" width="2.20" height="13.20" fill="#b3b3b3" stroke="#404040" stroke-width="0.8" />
<text x="389.90" y="910.10" font-size="9.85" text-anchor="end" font-weight="bold" font-style="normal" fill="#a5a5a5" >Target-based classification: Enzymes</text>
<text x="400.70" y="906.80" font-size="9.5" text-anchor="start" font-weight="normal" font-style="normal" fill="#000" >1</text>
<rect x="395.50" y="793.10" width="153.80" height="122.70" fill="none" stroke="#555" stroke-width="1" />
<text x="472.40" y="943.50" font-size="12.2" text-anchor="middle" font-weight="bold" font-style="normal" fill="#000" >Metabolites number</text>
<text x="0" y="0" font-size="12.9" font-weight="bold" text-anchor="middle" transform="translate(145.4 697.4) rotate(-90)">negative ion mode</text>
<text x="0" y="0" font-size="12.76" font-weight="bold" text-anchor="middle" transform="translate(142.2 872.0) rotate(-90)">positive ion mode</text>
</svg></body></html>
